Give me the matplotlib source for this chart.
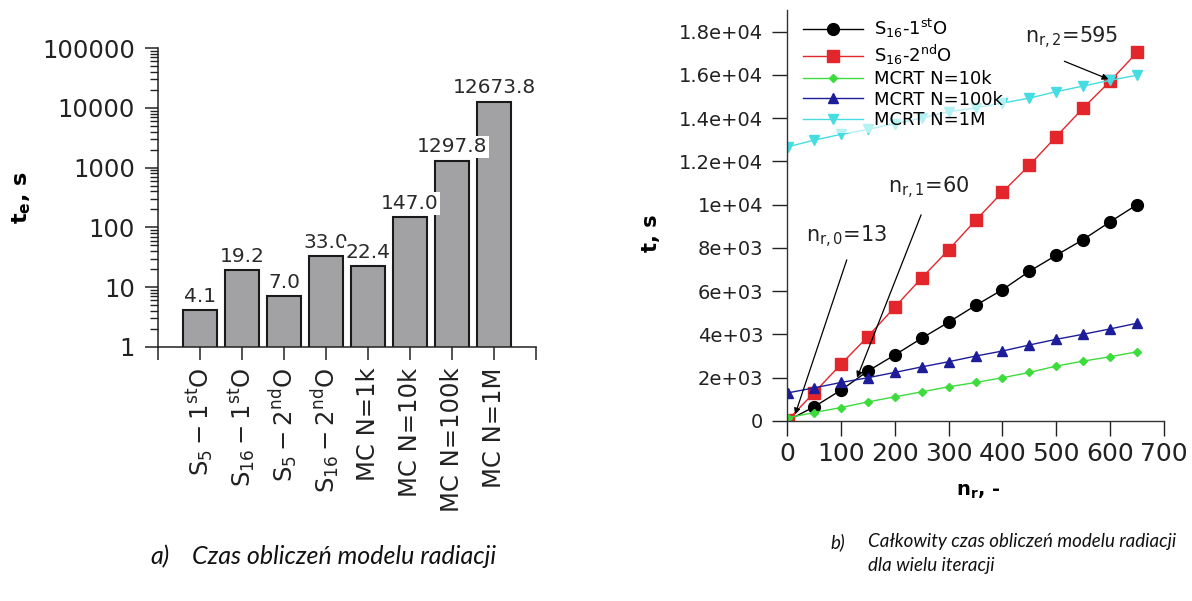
import numpy as np
import matplotlib.pyplot as plt
from matplotlib.ticker import FuncFormatter, LogLocator, NullFormatter

# --- a) single radiation model run time ---
methods = [r'$\mathrm{S_{5}-1^{st}O}$', r'$\mathrm{S_{16}-1^{st}O}$',
           r'$\mathrm{S_{5}-2^{nd}O}$', r'$\mathrm{S_{16}-2^{nd}O}$',
           'MC N=1k', 'MC N=10k', 'MC N=100k', 'MC N=1M']
t_e = [4.1, 19.2, 7.0, 33.0, 22.4, 147.0, 1297.8, 12673.8]
y_ticks_a = [1, 10, 100, 1000, 10000, 100000]

# --- b) total time for many iterations ---
n_r = [1, 50, 100, 150, 200, 250, 300, 350, 400, 450, 500, 550, 600, 650]
s16_1st = [19.2, 650, 1424, 2306, 3050, 3824, 4566, 5340, 6068, 6920, 7663, 8390, 9210, 10000]
s16_2nd = [33.0, 1300, 2616, 3900, 5263, 6610, 7910, 9270, 10580, 11820, 13150, 14470, 15710, 17045]
mcrt_10k = [147.0, 390, 620, 882, 1115, 1347, 1580, 1780, 2000, 2245, 2540, 2770, 2970, 3200]
mcrt_100k = [1297.8, 1530, 1780, 2000, 2245, 2500, 2740, 3000, 3235, 3514, 3777, 4010, 4257, 4520]
mcrt_1m = [12673.8, 12980, 13250, 13480, 13750, 14000, 14300, 14470, 14700, 14924, 15227, 15485, 15750, 15985]
series_labels = [r'S$_{16}$-1$^{\mathrm{st}}$O', r'S$_{16}$-2$^{\mathrm{nd}}$O',
                 'MCRT N=10k', 'MCRT N=100k', 'MCRT N=1M']

# crossing annotations: text, text position, line start, line end
notes = [(r'n$_{\mathrm{r,0}}$=13', (111, 8530), (111, 7450), (15, 300)),
         (r'n$_{\mathrm{r,1}}$=60', (264, 10770), (249, 9530), (130, 2000)),
         (r'n$_{\mathrm{r,2}}$=595', (528, 17710), (515, 16630), (597, 15800))]

W, H = 1192, 601
fig = plt.figure(figsize=(W / 100, H / 100), dpi=100)


def px_axes(x0, y0, x1, y1):
    return fig.add_axes([x0 / W, 1 - y1 / H, (x1 - x0) / W, (y1 - y0) / H])


# ---------------- left chart ----------------
ax1 = px_axes(158, 48, 536, 347)
pos = np.arange(len(t_e))
ax1.bar(pos, t_e, width=0.82, color='#a2a2a5', edgecolor='#1a1a1a', linewidth=1.5, zorder=2)
ax1.set_yscale('log')
ax1.set_ylim(1, 1e5)
ax1.set_xlim(-1, len(t_e))
ax1.set_yticks(y_ticks_a)
ax1.set_yticklabels([str(v) for v in y_ticks_a])
ax1.yaxis.set_minor_locator(LogLocator(base=10, subs=np.arange(2, 10)))
ax1.yaxis.set_minor_formatter(NullFormatter())
ax1.set_xticks(np.arange(-1, len(t_e) + 1))
ax1.set_xticklabels([''] + methods + [''], rotation=90)
ax1.tick_params(axis='y', which='major', length=9.5, width=1.1, labelsize=17.5, pad=7, colors='#222222')
ax1.tick_params(axis='y', which='minor', length=5.5, width=1.0, colors='#222222')
ax1.tick_params(axis='x', length=9, width=1.1, labelsize=17.5, pad=6, colors='#222222')
for side in ['top', 'right']:
    ax1.spines[side].set_visible(False)
for side in ['left', 'bottom']:
    ax1.spines[side].set_linewidth(1.1)
    ax1.spines[side].set_color('#222222')
ax1.set_ylabel(r'$\mathbf{t_e}$, s', fontsize=16, fontweight='bold')
ax1.yaxis.set_label_coords(-0.33, 0.5)

for i, v in enumerate(t_e):
    ax1.annotate(f'{v:.1f}', (i, v), xytext=(0, 6), textcoords='offset points',
                 ha='center', va='baseline', fontsize=14.5, color='#2a2a2a', zorder=5,
                 bbox=dict(boxstyle='square,pad=0.08', fc='white', ec='none'))

# ---------------- right chart ----------------
ax2 = px_axes(787, 10, 1164, 421)
styles = [('o', '#000000', 8.5), ('s', '#e3262b', 8), ('D', '#3ddc3d', 4.5),
          ('^', '#1d1d9a', 6.5), ('v', '#45dde2', 7)]
for ys, lab, (mk, col, ms) in zip([s16_1st, s16_2nd, mcrt_10k, mcrt_100k, mcrt_1m], series_labels, styles):
    ax2.plot(n_r, ys, '-', marker=mk, color=col, ms=ms, lw=1, label=lab)

ax2.set_xlim(0, 700)
ax2.set_ylim(0, 19000)
ax2.set_xticks(np.arange(0, 701, 100))
ax2.set_yticks(np.arange(0, 18001, 2000))
ax2.yaxis.set_major_formatter(FuncFormatter(lambda v, p: '{:.2g}'.format(v)))
ax2.tick_params(axis='y', length=11, width=1, labelsize=14, pad=6, colors='#222222')
ax2.tick_params(axis='x', length=11, width=1, labelsize=18, pad=4, colors='#222222')
for side in ['top', 'right']:
    ax2.spines[side].set_visible(False)
for side in ['left', 'bottom']:
    ax2.spines[side].set_linewidth(1)
    ax2.spines[side].set_color('#333333')
ax2.set_ylabel('t, s', fontsize=15, fontweight='bold')
ax2.yaxis.set_label_coords(-0.335, 0.457)
ax2.set_xlabel(r'$\mathbf{n_r}$, -', fontsize=14, fontweight='bold')
ax2.xaxis.set_label_coords(0.507, -0.148)

for txt, tpos, start, end in notes:
    ax2.annotate('', xy=end, xytext=start,
                 arrowprops=dict(arrowstyle='-|>', color='black', lw=0.9, mutation_scale=9,
                                 shrinkA=0, shrinkB=0))
    ax2.text(tpos[0], tpos[1], txt, fontsize=15, color='#222222', ha='center', va='center')

ax2.legend(loc='upper left', bbox_to_anchor=(0.024, 1.0), fontsize=13, frameon=True,
           framealpha=0.6, edgecolor='none', facecolor='white', handlelength=3.3,
           labelspacing=0.15, borderpad=0.2, borderaxespad=0.2, handletextpad=0.6)

# ---------------- captions ----------------
cap = dict(family=['Lato', 'DejaVu Sans'], style='italic', va='center', color='#111111')
fig.text(150 / W, 1 - 557 / H, 'a)', fontsize=18, **cap)
fig.text(192 / W, 1 - 557 / H, 'Czas obliczeń modelu radiacji', fontsize=18, **cap)
fig.text(830 / W, 1 - 542 / H, 'b)', fontsize=13.5, **cap)
fig.text(868 / W, 1 - 542 / H, 'Całkowity czas obliczeń modelu radiacji', fontsize=13.5, **cap)
fig.text(868 / W, 1 - 566 / H, 'dla wielu iteracji', fontsize=13.5, **cap)

fig.savefig('out.png', dpi=100)
